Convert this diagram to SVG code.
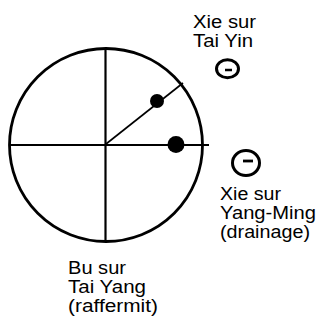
<svg xmlns="http://www.w3.org/2000/svg" width="321" height="321" viewBox="0 0 321 321">
<style>
text{font-family:"Liberation Sans",Arial,sans-serif;font-size:17.5px;fill:#000}
.ln{stroke:#000;fill:none}
.dot{fill:#000}
.small{fill:none;stroke:#000;stroke-width:3}
</style>
<rect width="321" height="321" fill="#fff"/>
<g id="wheel">
<circle class="ln" cx="106" cy="145" r="96.5" stroke-width="2.8"/>
</g>
<g id="connectors">
<line class="ln" x1="10" y1="145" x2="209" y2="145" stroke-width="2"/>
<line class="ln" x1="105.5" y1="49" x2="105.5" y2="241" stroke-width="2.2"/>
<line class="ln" x1="106" y1="144" x2="183" y2="83" stroke-width="1.6"/>
</g>
<g id="dot-taiyin"><circle class="dot" cx="157" cy="101" r="7"/></g>
<g id="dot-yangming"><circle class="dot" cx="176" cy="144.5" r="8.5"/></g>
<g id="sym-taiyin">
<ellipse class="small" cx="227.5" cy="68.7" rx="11" ry="9"/>
<line class="ln" x1="225" y1="70" x2="232" y2="70" stroke-width="2.5"/>
</g>
<g id="sym-yangming">
<ellipse class="small" cx="246" cy="163" rx="13.5" ry="12.5"/>
<line class="ln" x1="243" y1="161" x2="253" y2="161" stroke-width="2.8"/>
</g>
<g id="label-taiyin">
<text x="193" y="28" textLength="63" lengthAdjust="spacingAndGlyphs">Xie sur</text>
<text x="193" y="47" textLength="60" lengthAdjust="spacingAndGlyphs">Tai Yin</text>
</g>
<g id="label-yangming">
<text x="220" y="200" textLength="61" lengthAdjust="spacingAndGlyphs">Xie sur</text>
<text x="220" y="218.5" textLength="96" lengthAdjust="spacingAndGlyphs">Yang-Ming</text>
<text x="220" y="237.5" textLength="90" lengthAdjust="spacingAndGlyphs">(drainage)</text>
</g>
<g id="label-taiyang">
<text x="68" y="274" textLength="58" lengthAdjust="spacingAndGlyphs">Bu sur</text>
<text x="68" y="293" textLength="78" lengthAdjust="spacingAndGlyphs">Tai Yang</text>
<text x="68" y="312" textLength="90" lengthAdjust="spacingAndGlyphs">(raffermit)</text>
</g>
</svg>
